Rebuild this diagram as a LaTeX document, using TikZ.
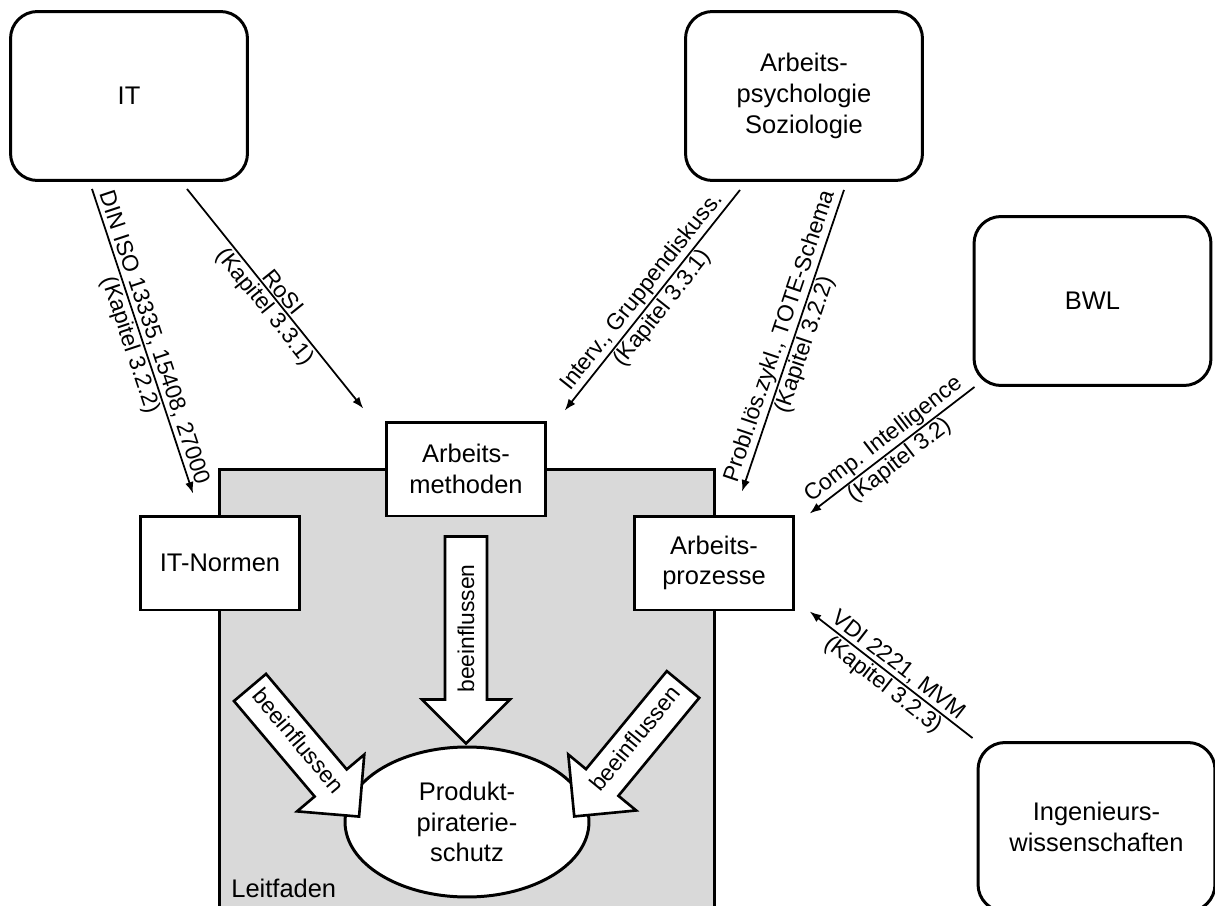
\documentclass[tikz,border=0pt]{standalone}
\usepackage{fontspec}
\setmainfont{Liberation Sans}
\usetikzlibrary{arrows.meta,calc,shapes.geometric}
\newcommand\dgBoxFont{\fontsize{14.5}{17.5}\selectfont}
\newcommand\dgLabelFont{\fontsize{13}{15}\selectfont}
\definecolor{leitgray}{RGB}{217,217,217}
\begin{document}
\begin{tikzpicture}[x=0.02cm,y=-0.02cm,
  discipline/.style={draw,line width=1.7pt,rounded corners=0.54cm,fill=white,
    minimum width=4.74cm,minimum height=3.38cm,align=center,inner sep=0pt,font=\dgBoxFont},
  component/.style={draw,line width=1.7pt,fill=white,minimum width=3.17cm,
    minimum height=1.88cm,align=center,inner sep=0pt,font=\dgBoxFont},
  leitbox/.style={draw,line width=1.7pt,fill=leitgray,inner sep=0pt},
  goal/.style={draw,ellipse,line width=1.7pt,fill=white,minimum width=4.88cm,
    minimum height=3cm,align=center,inner sep=0pt,font=\dgBoxFont},
  conn/.style={line width=1pt,-{Latex[length=2.3mm,width=1.7mm]}},
  lbl/.style={sloped,inner sep=1pt,font=\dgLabelFont},
  bigarrow/.style={draw,line width=1.5pt,fill=white,line join=miter},
  bigtext/.style={font=\dgLabelFont,inner sep=0pt}
]
\useasboundingbox (0,0) rectangle (1215,906);

% guideline area
\node[leitbox,minimum width=9.92cm,minimum height=9.2cm] (LF) at (467,699) {};
\node[anchor=base west,font=\dgBoxFont,inner sep=0pt] (LFtext) at (231,897) {Leitfaden};

% disciplines
\node[discipline] (IT)  at (129,96)  {IT};
\node[discipline] (PS)  at (804,96)  {Arbeits-\\psychologie\\Soziologie};
\node[discipline] (BWL) at (1092.5,301) {BWL};
\node[discipline] (ING) at (1096.5,827) {Ingenieurs-\\wissenschaften};

% components of the guideline
\node[component] (ITN) at (220,563) {IT-Normen};
\node[component] (AM)  at (466,469) {Arbeits-\\methoden};
\node[component] (AP)  at (714,563) {Arbeits-\\prozesse};
\node[goal] (PPS) at (467,822) {Produkt-\\piraterie-\\schutz};

% block arrows "beeinflussen"
\begin{scope}[shift={($(ITN.south)+(30,76)$)},rotate=-49.8]
  \draw[bigarrow] (0,-21) -- (125,-21) -- (125,-44) -- (169,0) -- (125,44) -- (125,21) -- (0,21) -- cycle;
  \node[bigtext,rotate=-49.8] (B1) at (72,-3) {beeinflussen};
\end{scope}
\begin{scope}[shift={($(AM.south)+(0,19)$)},rotate=-90]
  \draw[bigarrow] (0,-21) -- (163,-21) -- (163,-44) -- (207,0) -- (163,44) -- (163,21) -- (0,21) -- cycle;
  \node[bigtext,rotate=90] (B2) at (92,0) {beeinflussen};
\end{scope}
\begin{scope}[shift={($(AP.south)+(-31,73)$)},rotate=-129.5]
  \draw[bigarrow] (0,-21) -- (127,-21) -- (127,-44) -- (171,0) -- (127,44) -- (127,21) -- (0,21) -- cycle;
  \node[bigtext,rotate=50.5] (B3) at (72,3) {beeinflussen};
\end{scope}

% methods contributed by the disciplines
\draw[conn] ($(IT.south)+(-37,7)$) --
  node[lbl,above] {DIN ISO 13335, 15408, 27000}
  node[lbl,below] {(Kapitel 3.2.2)}
  ($(ITN.north)+(-27,-21)$);
\draw[conn] ($(IT.south)+(58,7)$) --
  node[lbl,above] {RoSI}
  node[lbl,below] {(Kapitel 3.3.1)}
  ($(AM.north west)+(-22,-12)$);
\draw[conn] ($(PS.south)+(-64,8)$) --
  node[lbl,above] {Interv., Gruppendiskuss.}
  node[lbl,below] {(Kapitel 3.3.1)}
  ($(AM.north east)+(18,-10)$);
\draw[conn] ($(PS.south)+(40,8)$) --
  node[lbl,above] {Probl.lös.zykl., TOTE-Schema}
  node[lbl,below] {(Kapitel 3.2.2)}
  ($(AP.north)+(28,-23)$);
\draw[conn] ($(BWL.south west)+(2,0)$) --
  node[lbl,above] {Comp. Intelligence}
  node[lbl,below] {(Kapitel 3.2)}
  ($(AP.north east)+(15,-1)$);
\draw[conn] ($(ING.north west)+(-4,-3)$) --
  node[lbl,above] {VDI 2221, MVM}
  node[lbl,below] {(Kapitel 3.2.3)}
  ($(AP.south east)+(15,0)$);
\end{tikzpicture}
\end{document}
